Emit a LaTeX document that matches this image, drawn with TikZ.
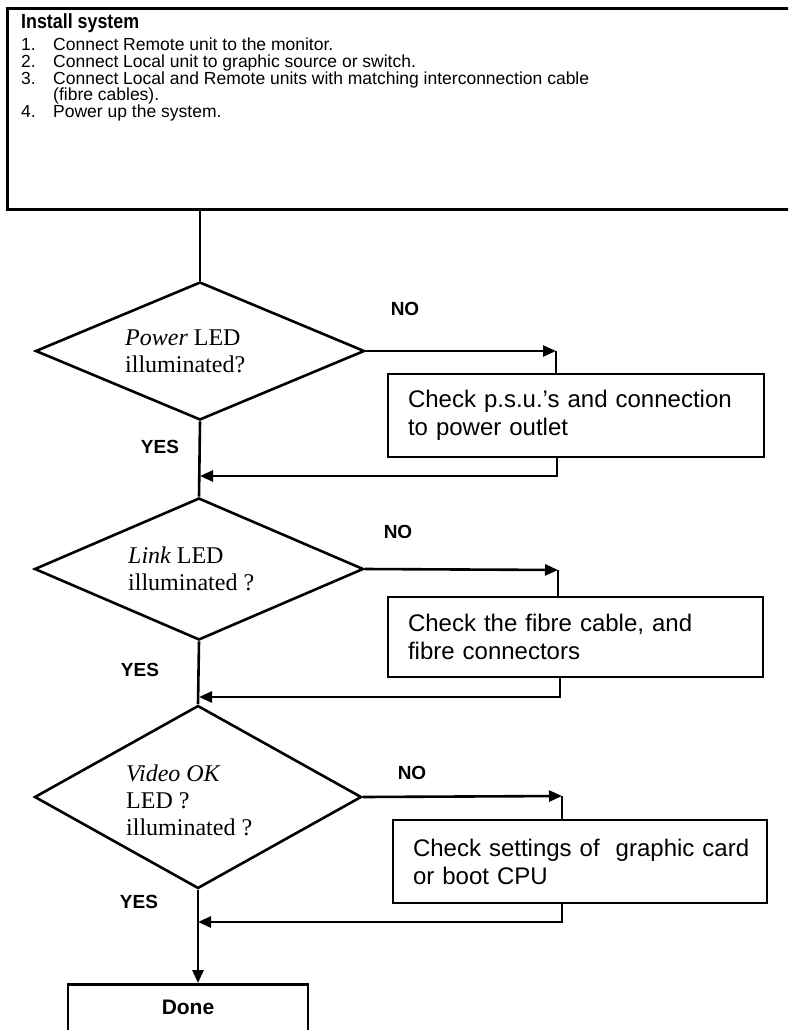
\documentclass[tikz,border=0pt]{standalone}
\usepackage{fontspec}
\setmainfont{Liberation Sans}
\newfontfamily\timesfont{Liberation Serif}
\newfontfamily\narrowtitle[FakeStretch=0.87]{Liberation Sans}
\usetikzlibrary{arrows.meta,shapes.geometric}
\tikzset{
  flowline/.style={line width=2.6pt},
  arrowline/.style={flowline,-{Triangle[length=13pt,width=11pt]}},
  decision/.style={draw,diamond,line width=2.6pt,inner sep=0pt,aspect=2.4},
  checkbox/.style={draw,rectangle,line width=2.6pt,align=left,inner xsep=20pt,
    font=\fontsize{24}{28}\selectfont},
  dtext/.style={font=\timesfont\fontsize{24}{27}\selectfont,align=left,anchor=west,inner sep=0pt},
  lbl/.style={font=\bfseries\fontsize{19}{21}\selectfont,inner sep=0pt},
  listnum/.style={font=\fontsize{17.5}{17}\selectfont,anchor=base west,inner sep=0pt},
}
\begin{document}
\begin{tikzpicture}[x=1pt,y=-1pt]
\useasboundingbox (0,0) rectangle (788,1030);
\clip (0,0) rectangle (788,1030);
\fill[white] (0,0) rectangle (788,1030);
% install box
\node[draw,line width=3pt,anchor=north west,minimum width=820pt,minimum height=201pt,inner sep=0pt] (install) at (6,7) {};
\node[font=\narrowtitle\bfseries\fontsize{20.5}{22}\selectfont,anchor=base west,inner sep=0pt] (title) at (21,29) {Install system};
\node[listnum] (n1) at (21,51) {1.};
\node[listnum] (t1) at (53,51) {Connect Remote unit to the monitor.};
\node[listnum] (n2) at (21,67.6) {2.};
\node[listnum] (t2) at (53,67.6) {Connect Local unit to graphic source or switch.};
\node[listnum] (n3) at (21,84.2) {3.};
\node[listnum] (t3) at (53,84.2) {Connect Local and Remote units with matching interconnection cable};
\node[listnum] (t3b) at (53,100.8) {(fibre cables).};
\node[listnum] (n4) at (21,117.4) {4.};
\node[listnum] (t4) at (53,117.4) {Power up the system.};
% decisions
\node[decision,minimum width=329pt,minimum height=138pt] (d1) at (200,351) {};
\node[dtext] (d1t) at (125,351) {\itshape Power\upshape{} LED\\illuminated?};
\node[decision,minimum width=329pt,minimum height=142pt] (d2) at (199,569) {};
\node[dtext] (d2t) at (128,569) {\itshape Link\upshape{} LED\\illuminated ?};
\node[decision,minimum width=327pt,minimum height=183pt] (d3) at (198,797) {};
\node[dtext] (d3t) at (126,800) {\itshape Video OK\upshape\\LED ?\\illuminated ?};
% check boxes
\node[checkbox,minimum width=376pt,minimum height=83pt,text width=336pt] (b1) at (576,415.5) {Check p.s.u.’s and connection\\to power outlet};
\node[checkbox,minimum width=375pt,minimum height=80pt,text width=335pt] (b2) at (575.5,637) {Check the fibre cable, and\\fibre connectors};
\node[checkbox,minimum width=374pt,minimum height=83pt,text width=334pt] (b3) at (580,861.5) {\mbox{Check settings of\ \ graphic card}\\or boot CPU};
% done
\node[draw,line width=2.6pt,anchor=north,minimum width=240pt,minimum height=100pt,inner sep=0pt] (done) at (188,983) {};
\node[font=\bfseries\fontsize{21}{23}\selectfont,inner sep=0pt] (donet) at (188,1007) {Done};
% labels
\node[lbl] (no1) at (405,309) {NO};
\node[lbl] (no2) at (398,532) {NO};
\node[lbl] (no3) at (412,773) {NO};
\node[lbl] (yes1) at (160,447) {YES};
\node[lbl] (yes2) at (140,670) {YES};
\node[lbl] (yes3) at (139,902) {YES};
% coordinates
\coordinate (c1) at (556,351);
\coordinate (r1) at (557,476);
\coordinate (c2) at (558,570);
\coordinate (r2) at (560,697);
\coordinate (c3) at (562,796);
\coordinate (r3) at (562,922);
% connectors
\draw[flowline] (install.south -| d1.north) -- (d1.north);
\draw[arrowline] (d1.east) -- (c1);
\draw[flowline] (c1) -- (c1 |- b1.north);
\draw[arrowline] (r1 |- b1.south) -- (r1) -- (r1 -| d1.south);
\draw[flowline] (d1.south) -- (d2.north);
\draw[arrowline] (d2.east) -- (c2);
\draw[flowline] (c2) -- (c2 |- b2.north);
\draw[arrowline] (r2 |- b2.south) -- (r2) -- (r2 -| d2.south);
\draw[flowline] (d2.south) -- (d3.north);
\draw[arrowline] (d3.east) -- (c3);
\draw[flowline] (c3) -- (c3 |- b3.north);
\draw[arrowline] (r3 |- b3.south) -- (r3) -- (r3 -| d3.south);
\draw[arrowline] (d3.south) -- (d3.south |- done.north);
\end{tikzpicture}
\end{document}
